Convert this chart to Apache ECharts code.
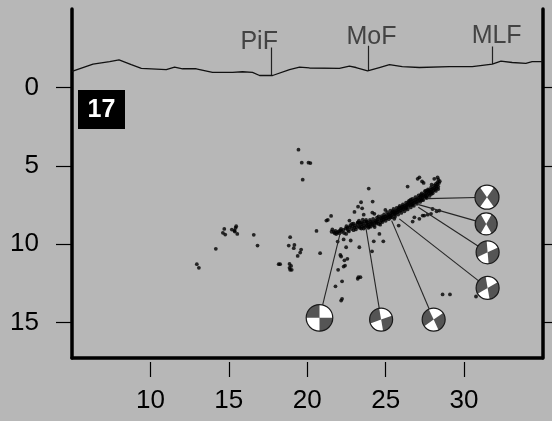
<!DOCTYPE html>
<html>
<head>
<meta charset="utf-8">
<script src="https://cdn.jsdelivr.net/npm/echarts@6/dist/echarts.min.js"></script>
<style>
  html, body { margin: 0; padding: 0; background: #b7b7b7; }
  #chart { width: 552px; height: 421px; }
</style>
</head>
<body>
<div id="chart"></div>
<script>
// Cross-section: distance along profile (km) vs depth (km)
const xTicks = [10, 15, 20, 25, 30];
const depthTicks = [0, 5, 10, 15];

// Surface topography along the profile (negative depth = elevation)
const topoX = [5.0, 6.34, 7.4, 8.0, 8.78, 9.42, 11.01, 11.54, 12.05, 12.92, 13.96, 15.24, 15.87, 16.51, 16.96, 17.79, 18.87, 19.51, 20.14, 22.05, 22.69, 23.11, 23.85, 24.6, 25.24, 26.06, 27.15, 29.06, 30.52, 31.8, 32.35, 33.07, 33.94, 34.34, 35.0];
const topoZ = [-1.02, -1.49, -1.64, -1.75, -1.45, -1.21, -1.13, -1.3, -1.19, -1.19, -0.96, -0.96, -1.0, -0.96, -0.76, -0.76, -1.13, -1.3, -1.24, -1.21, -1.36, -1.27, -1.06, -1.27, -1.45, -1.32, -1.27, -1.32, -1.32, -1.49, -1.68, -1.59, -1.53, -1.64, -1.64];

// Fault traces at the surface
const faultNames = ['PiF', 'MoF', 'MLF'];
const faultX = [17.7, 23.9, 31.82];
const faultTop = [-2.55, -2.66, -2.61];
const faultBase = [-0.76, -1.06, -1.49];

// Hypocentres away from the main band
const scatteredQuakes = [
  [19.44, 3.97], [19.65, 4.8], [20.08, 4.8], [20.2, 4.82], [19.71, 5.88],
  [14.71, 9.02], [15.19, 9.06], [15.36, 9.13], [15.47, 8.85], [15.43, 8.96], [15.38, 9.19], [14.62, 9.27], [14.77, 9.38], [15.54, 9.34], [16.59, 9.4], [14.17, 10.29], [16.83, 10.08], [12.96, 11.27], [13.09, 11.5],
  [18.91, 9.55], [18.82, 10.08], [19.18, 10.04], [19.14, 10.25], [19.61, 10.34], [19.55, 10.53], [19.39, 10.74], [18.18, 11.27], [18.27, 11.27], [18.87, 11.25], [18.97, 11.38], [18.87, 11.5], [18.91, 11.63], [19.01, 11.63],
  [20.82, 10.57], [20.59, 9.15], [21.22, 8.49], [21.31, 8.45], [21.52, 8.19],
  [23.92, 6.45], [23.43, 7.32], [24.17, 7.28], [23.24, 7.6], [23.5, 7.71], [23.01, 7.94], [23.6, 8.11], [24.15, 7.98], [24.28, 8.06],
  [21.94, 9.83], [22.77, 9.76], [22.48, 10.19], [23.32, 10.19], [22.11, 10.68], [22.16, 10.78], [22.56, 10.93], [22.37, 11.02], [22.41, 11.36], [22.32, 11.42], [21.97, 11.63], [23.26, 12.1], [23.22, 12.2], [23.39, 12.1], [22.22, 12.36], [21.8, 12.68], [22.22, 13.48], [22.16, 13.59],
  [24.13, 10.45], [24.24, 9.81], [24.85, 9.81], [24.6, 9.34], [22.32, 9.69], [22.48, 9.34], [22.69, 8.49], [23.22, 8.6], [23.54, 8.43],
  [28.63, 13.2], [29.1, 13.2], [30.76, 13.33],
  [28.36, 5.88], [27.04, 5.83], [27.15, 5.73], [27.32, 5.99], [26.4, 6.32], [27.93, 6.2], [27.42, 6.09], [28.1, 5.83], [28.31, 5.73], [27.57, 6.58],
  [24.98, 7.81], [25.55, 8.38], [26.72, 8.55], [25.83, 8.81], [27.68, 8.11], [27.89, 8.06], [28.25, 7.9], [27.36, 8.17], [26.83, 8.28], [27.15, 8.38], [27.46, 8.17], [27.99, 7.75], [28.42, 7.85]
];

// Hypocentres in the dipping seismic band
const bandQuakes = [
  [21.55, 9.2], [21.7, 9.22], [21.8, 9.15], [21.9, 9.25], [22.0, 9.18], [22.1, 9.12], [22.2, 9.2], [22.3, 9.08], [22.05, 9.3], [21.75, 9.3],
  [22.45, 9.0], [22.55, 8.95], [22.6, 9.1], [22.7, 8.9], [22.8, 9.02], [22.9, 8.85], [23.0, 8.95], [22.75, 8.78], [22.95, 9.1],
  [23.05, 8.8], [23.15, 8.9], [23.2, 8.7], [23.3, 8.85], [23.35, 8.95], [23.4, 8.75], [23.5, 8.88], [23.55, 8.65], [23.6, 8.8], [23.7, 8.9], [23.75, 8.7], [23.8, 8.82], [23.85, 8.6], [23.9, 8.75], [23.95, 8.88], [24.0, 8.7], [23.45, 9.0], [23.65, 8.55], [23.25, 8.6], [24.05, 8.55],
  [24.1, 8.65], [24.15, 8.75], [24.2, 8.55], [24.3, 8.62], [24.35, 8.5], [24.4, 8.68], [24.45, 8.45], [24.5, 8.55], [24.6, 8.4], [24.65, 8.6], [24.7, 8.35], [24.75, 8.48], [24.8, 8.3], [24.85, 8.42], [24.9, 8.25], [24.95, 8.38], [24.55, 8.7], [24.25, 8.8],
  [25.0, 8.22], [25.05, 8.35], [25.1, 8.15], [25.15, 8.28], [25.2, 8.1], [25.25, 8.2], [25.3, 8.05], [25.35, 8.18], [25.4, 7.98], [25.45, 8.1], [25.5, 7.95], [25.55, 8.05], [25.6, 7.88], [25.65, 8.0], [25.7, 7.85], [25.75, 7.95], [25.8, 7.78], [25.85, 7.9], [25.9, 7.72], [25.95, 7.85], [25.3, 8.3], [25.6, 8.12],
  [26.0, 7.7], [26.05, 7.8], [26.1, 7.62], [26.15, 7.75], [26.2, 7.55], [26.25, 7.68], [26.3, 7.5], [26.35, 7.62], [26.4, 7.45], [26.45, 7.55], [26.5, 7.38], [26.55, 7.5], [26.6, 7.32], [26.65, 7.45], [26.7, 7.28], [26.75, 7.4], [26.8, 7.22], [26.85, 7.35], [26.9, 7.15], [26.95, 7.3], [26.3, 7.72], [26.7, 7.5], [26.6, 7.15],
  [27.0, 7.12], [27.05, 7.25], [27.1, 7.05], [27.15, 7.18], [27.2, 6.98], [27.25, 7.1], [27.3, 6.92], [27.35, 7.05], [27.4, 6.85], [27.45, 6.98], [27.5, 6.8], [27.55, 6.92], [27.6, 6.72], [27.65, 6.85], [27.7, 6.65], [27.75, 6.78], [27.8, 6.6], [27.85, 6.7], [27.9, 6.52], [27.95, 6.65], [28.0, 6.45], [28.05, 6.58], [28.1, 6.4], [28.15, 6.5], [28.2, 6.3], [28.25, 6.42], [28.3, 6.2], [28.35, 6.32], [28.4, 6.1], [27.3, 7.2], [27.6, 7.0], [27.9, 6.8],
  [21.6, 9.05], [21.85, 9.35], [22.15, 9.02], [22.35, 9.28], [22.5, 8.85], [22.65, 9.18], [22.85, 8.7], [23.1, 9.05], [23.3, 8.5], [23.45, 8.62], [23.6, 9.0], [23.75, 8.45], [23.9, 8.95], [24.05, 8.88], [24.2, 8.38], [24.3, 8.9], [24.45, 8.3], [24.55, 8.22], [24.65, 8.75], [24.8, 8.58], [24.9, 8.1], [25.0, 8.5], [25.1, 7.95], [25.2, 8.4], [25.3, 7.85], [25.4, 8.28], [25.5, 7.75], [25.6, 8.25], [25.7, 7.68], [25.8, 8.1], [25.9, 7.55], [26.0, 8.0], [26.1, 7.45], [26.2, 7.9], [26.3, 7.35], [26.4, 7.78], [26.5, 7.22], [26.6, 7.65], [26.7, 7.1], [26.8, 7.55], [26.9, 7.0], [27.0, 7.42], [27.1, 6.88], [27.2, 7.3], [27.3, 6.75], [27.4, 7.18], [27.5, 6.62], [27.6, 7.05], [27.7, 6.5], [27.8, 6.92], [27.9, 6.38], [28.0, 6.75], [28.1, 6.25], [28.2, 6.6], [28.3, 6.05], [28.35, 6.48], [28.45, 5.98], [28.2, 6.15], [26.05, 7.58], [25.45, 7.88], [24.75, 8.2], [24.0, 8.45], [23.35, 8.62], [22.95, 8.68], [26.45, 7.3], [27.25, 6.85], [25.85, 7.65], [24.4, 8.58], [23.8, 8.55], [27.75, 6.55]
];

// Focal mechanisms: event location, plotted ball location,
// azimuth (deg from north) and half-width of the dilatational lobes
const mechEventX = [27.66, 27.1, 27.08, 25.87, 22.11, 23.75, 25.38];
const mechEventZ = [7.09, 7.47, 7.64, 8.38, 9.25, 9.02, 8.49];
const mechBallX = [31.46, 31.41, 31.5, 31.5, 20.78, 24.71, 28.06];
const mechBallZ = [7.0, 8.7, 10.51, 12.78, 14.69, 14.8, 14.8];
const mechTAzimuth = [0, 0, 30, 25, 45, 30, 15];
const mechTHalfWidth = [35, 30, 35, 35, 45, 40, 40];

// Drawing styles
const ballRadius = [12, 11, 11.5, 11.5, 13.3, 11.5, 11.5];
const faultLabelOffset = [[-12, -5], [3, -9], [4, -10.5]];
const FONT = 'Liberation Sans, Arial, Helvetica, sans-serif';

const chart = echarts.init(document.getElementById('chart'), null, { renderer: 'canvas' });

const topoData = topoX.map((x, i) => [x, topoZ[i]]);
const faultTickLines = faultX.map((x, i) => ({ coords: [[x, faultTop[i]], [x, faultBase[i]]] }));
const faultLabelData = faultX.map((x, i) => ({
  value: [x, faultTop[i]],
  name: faultNames[i],
  label: { offset: faultLabelOffset[i] }
}));
const mechLinks = mechEventX.map((x, i) => ({ coords: [[x, mechEventZ[i]], [mechBallX[i], mechBallZ[i]]] }));
const mechData = mechBallX.map((x, i) => [x, mechBallZ[i], mechTAzimuth[i], mechTHalfWidth[i], i]);

// Beach ball: dark compressional background with two white dilatational lobes
function renderBeachBall(params, api) {
  const c = api.coord([api.value(0), api.value(1)]);
  const idx = api.value(4);
  const r = ballRadius[idx];
  const az = api.value(2);
  const half = api.value(3);
  const rad = d => (d - 90) * Math.PI / 180;
  const lobe = k => ({
    type: 'sector',
    shape: { cx: c[0], cy: c[1], r0: 0, r: r, startAngle: rad(az + k - half), endAngle: rad(az + k + half), clockwise: true },
    style: { fill: '#ffffff' }
  });
  return {
    type: 'group',
    children: [
      { type: 'circle', shape: { cx: c[0], cy: c[1], r: r }, style: { fill: '#555555' } },
      lobe(0),
      lobe(180),
      { type: 'circle', shape: { cx: c[0], cy: c[1], r: r }, style: { fill: null, stroke: '#1a1a1a', lineWidth: 1.2 } }
    ]
  };
}

const axisLineStyle = { color: '#000', width: 3.5 };

chart.setOption({
  animation: false,
  backgroundColor: '#b7b7b7',
  textStyle: { fontFamily: FONT },
  grid: { left: 72, right: 9.5, top: 9, bottom: 63, containLabel: false },
  xAxis: [
    {
      type: 'value', min: 5, max: 35, position: 'bottom',
      axisLine: { show: true, onZero: false, lineStyle: axisLineStyle },
      axisTick: { show: false }, axisLabel: { show: false }, splitLine: { show: false }
    },
    {
      type: 'value', min: 5, max: 35, position: 'bottom', offset: 4,
      axisLine: { show: false, onZero: false },
      axisTick: { show: true, customValues: xTicks, length: 15, inside: false, lineStyle: { color: '#000', width: 1.2 } },
      axisLabel: { show: true, customValues: xTicks, margin: 26, fontSize: 26, color: '#000', fontFamily: FONT },
      splitLine: { show: false }
    }
  ],
  yAxis: [
    {
      type: 'value', inverse: true, min: -5, max: 17.25, position: 'left',
      axisLine: { show: true, onZero: false, lineStyle: axisLineStyle },
      axisTick: { show: true, customValues: depthTicks, length: 16, inside: false, lineStyle: { color: '#000', width: 1.2 } },
      axisLabel: { show: true, customValues: depthTicks, margin: 33, fontSize: 26, color: '#000', fontFamily: FONT },
      splitLine: { show: false }
    },
    {
      type: 'value', inverse: true, min: -5, max: 17.25, position: 'right',
      axisLine: { show: true, onZero: false, lineStyle: axisLineStyle },
      axisTick: { show: true, customValues: depthTicks, length: 16, inside: false, lineStyle: { color: '#000', width: 1.2 } },
      axisLabel: { show: false }, splitLine: { show: false }
    }
  ],
  graphic: [
    {
      type: 'group', left: 78, top: 90,
      children: [
        { type: 'rect', shape: { x: 0, y: 0, width: 47, height: 39 }, style: { fill: '#000' } },
        { type: 'text', x: 23.5, y: 20.5, style: { text: '17', fill: '#fff', font: 'bold 25px ' + FONT, align: 'center', verticalAlign: 'middle' } }
      ]
    }
  ],
  series: [
    {
      type: 'line', xAxisIndex: 0, yAxisIndex: 0, data: topoData,
      showSymbol: false, symbol: 'none', smooth: false,
      lineStyle: { color: '#111', width: 1.3 }, z: 3
    },
    {
      type: 'lines', coordinateSystem: 'cartesian2d', xAxisIndex: 0, yAxisIndex: 0,
      data: faultTickLines, lineStyle: { color: '#222', width: 1.2, opacity: 1 }, z: 3
    },
    {
      type: 'scatter', xAxisIndex: 0, yAxisIndex: 0, data: faultLabelData,
      symbolSize: 0,
      label: {
        show: true, position: 'inside', formatter: p => p.name,
        fontSize: 25, color: '#262626', fontFamily: FONT
      },
      z: 4
    },
    {
      type: 'scatter', xAxisIndex: 0, yAxisIndex: 0, data: scatteredQuakes,
      symbol: 'circle', symbolSize: 3.8, itemStyle: { color: '#000' }, z: 2
    },
    {
      type: 'scatter', xAxisIndex: 0, yAxisIndex: 0, data: bandQuakes,
      symbol: 'circle', symbolSize: 3.8, itemStyle: { color: '#000' }, z: 2
    },
    {
      type: 'lines', coordinateSystem: 'cartesian2d', xAxisIndex: 0, yAxisIndex: 0,
      data: mechLinks, lineStyle: { color: '#262626', width: 1.1, opacity: 1 }, z: 5
    },
    {
      type: 'custom', xAxisIndex: 0, yAxisIndex: 0, data: mechData,
      renderItem: renderBeachBall, z: 6
    }
  ]
});
</script>
</body>
</html>
